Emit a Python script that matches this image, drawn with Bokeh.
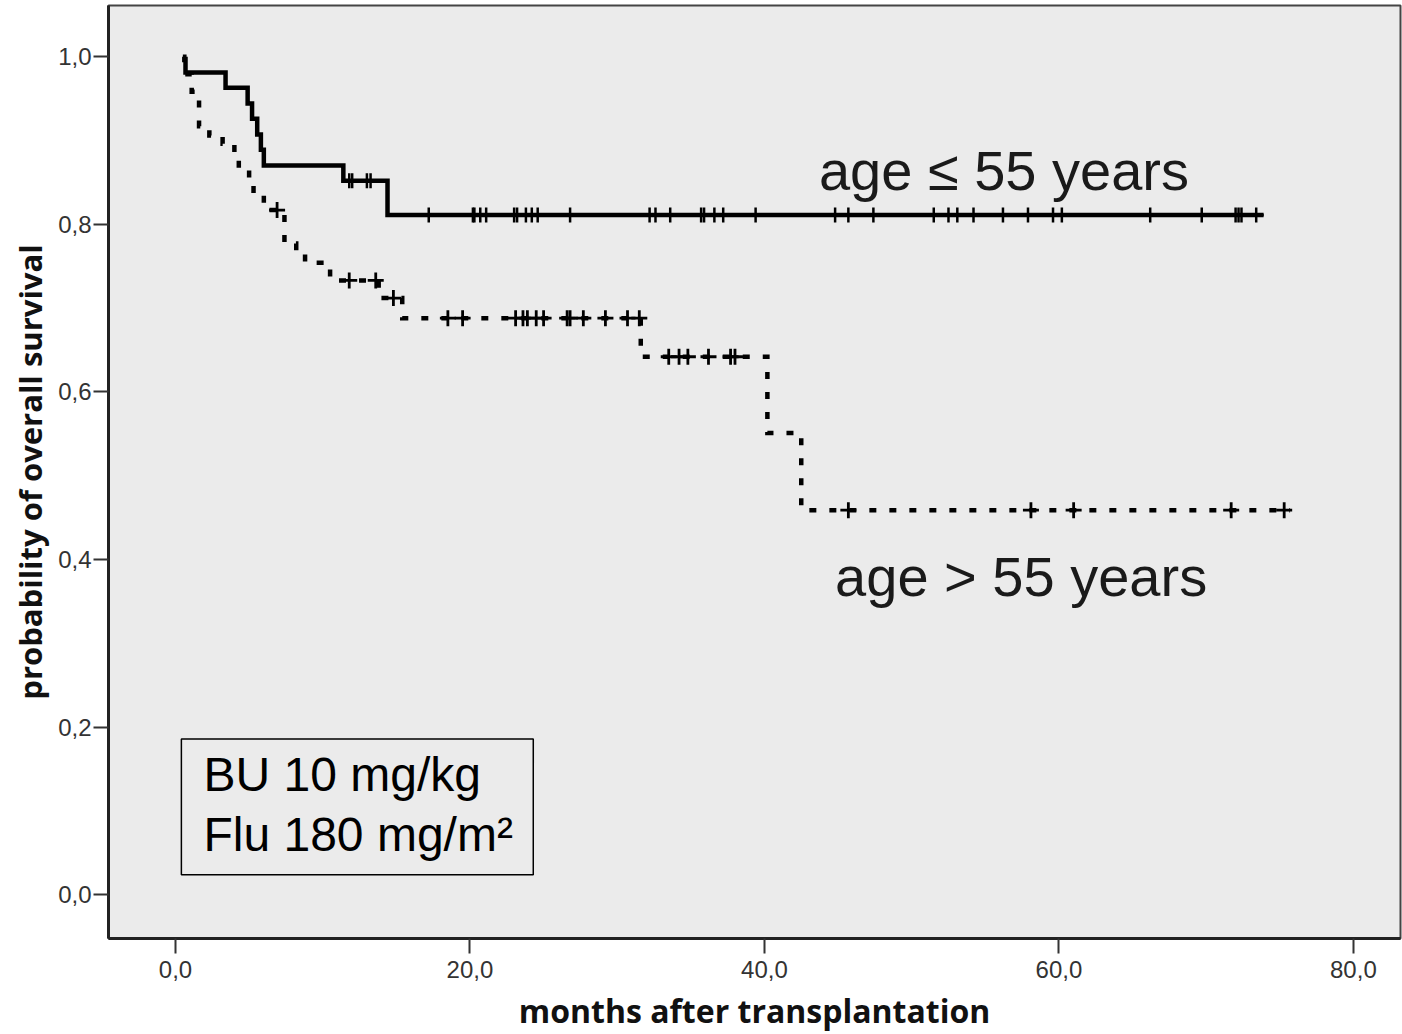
from bokeh.plotting import figure
from bokeh.models import Range1d, FixedTicker, CustomJSTickFormatter, BoxAnnotation
from bokeh.core.properties import value
from bokeh.embed import file_html
from bokeh.resources import INLINE

# ---------------- data ----------------
# age <= 55 years : event times (months) and survival after each event
young_start = 0.68
young_times = [0.68, 3.4, 4.9, 5.2, 5.55, 5.8, 6.0, 11.4, 14.4]
young_surv = [0.981, 0.963, 0.944, 0.926, 0.907, 0.889, 0.870, 0.852, 0.811]
young_end = 73.9
young_censor = [11.8, 12.0, 13.0, 13.25, 17.2, 20.2, 20.3, 20.7, 21.1, 23.0, 23.2,
                23.8, 24.2, 24.6, 26.8, 32.2, 32.6, 33.6, 35.7, 35.9, 36.6, 37.2,
                39.4, 44.8, 45.7, 47.4, 51.5, 52.5, 53.1, 54.2, 56.2, 57.9, 59.6,
                60.2, 66.2, 69.7, 72.0, 72.2, 72.4, 73.4]

# age > 55 years
old_start = 0.5
old_times = [0.6, 1.1, 1.6, 2.3, 3.2, 4.0, 4.3, 5.0, 5.3, 6.0, 7.4, 8.2, 8.8,
             10.5, 13.8, 15.4, 31.6, 40.2, 42.5]
old_surv = [0.979, 0.958, 0.917, 0.906, 0.896, 0.885, 0.865, 0.854, 0.836, 0.817,
            0.777, 0.767, 0.754, 0.733, 0.712, 0.688, 0.642, 0.551, 0.459]
old_end = 75.7
old_censor = [6.9, 11.8, 13.6, 14.8, 18.5, 19.5, 23.1, 23.6, 23.9, 24.5, 25.0,
              26.6, 26.8, 27.7, 29.2, 30.7, 31.5, 33.5, 34.2, 34.8, 36.2, 37.7,
              38.0, 45.7, 58.1, 61.0, 71.7, 75.3]

x_ticks = [0, 20, 40, 60, 80]
y_ticks = [0.0, 0.2, 0.4, 0.6, 0.8, 1.0]

label_young = "age \u2264 55 years"
label_old = "age > 55 years"
box_lines = ["BU 10 mg/kg", "Flu 180 mg/m\u00b2"]
x_title = "months after transplantation"
y_title = "probability of overall survival"


def step_path(t0, times, surv, t_end):
    xs, ys = [t0], [1.0]
    for t, s in zip(times, surv):
        xs += [t, t]
        ys += [ys[-1], s]
    xs.append(t_end)
    ys.append(ys[-1])
    return xs, ys


def surv_at(t, times, surv):
    s = 1.0
    for tt, ss in zip(times, surv):
        if tt <= t:
            s = ss
    return s


p = figure(width=1402, height=1034, output_backend="svg", toolbar_location=None,
           x_range=Range1d(-4.55, 83.2), y_range=Range1d(-0.052, 1.061),
           min_border_left=108, min_border_right=2, min_border_top=5, min_border_bottom=94)

p.background_fill_color = "#ebebeb"
p.border_fill_color = "white"
p.outline_line_color = "#444444"
p.outline_line_width = 2
p.xgrid.visible = False
p.ygrid.visible = False

fmt = CustomJSTickFormatter(code="return tick.toFixed(1).replace('.', ',');")
for ax, ticks in ((p.xaxis[0], x_ticks), (p.yaxis[0], y_ticks)):
    ax.ticker = FixedTicker(ticks=ticks)
    ax.formatter = fmt
    ax.minor_tick_line_color = None
    ax.major_tick_in = 0
    ax.major_tick_out = 15
    ax.major_tick_line_width = 2
    ax.major_tick_line_color = "#333333"
    ax.axis_line_width = 3
    ax.axis_line_color = "#222222"
    ax.major_label_text_font = "Liberation Sans"
    ax.major_label_text_font_size = "24px"
    ax.major_label_text_color = "#333333"
    ax.axis_label_text_font = "Open Sans"
    ax.axis_label_text_font_style = "bold"
    ax.axis_label_text_color = "#111111"

p.xaxis.major_label_standoff = 7
p.yaxis.major_label_standoff = 2
p.xaxis.axis_label = x_title
p.yaxis.axis_label = y_title
p.xaxis.axis_label_text_font_size = "32px"
p.yaxis.axis_label_text_font_size = "31px"
p.xaxis.axis_label_standoff = 8
p.yaxis.axis_label_standoff = 4

# curves
yx, yy = step_path(young_start, young_times, young_surv, young_end)
p.line(yx, yy, line_color="black", line_width=4.5, line_join="miter")
ox, oy = step_path(old_start, old_times, old_surv, old_end)
p.line(ox, oy, line_color="black", line_width=4.5, line_dash="7 13", line_join="miter")

# censor marks
yc_y = [surv_at(t, young_times, young_surv) for t in young_censor]
p.scatter(young_censor, yc_y, marker="cross", size=15, line_width=2.5, line_color="black")
oc_y = [surv_at(t, old_times, old_surv) for t in old_censor]
p.scatter(old_censor, oc_y, marker="cross", size=16, line_width=2.8, line_color="black")

# group labels
p.text(x=[43.7], y=[0.864], text=[label_young], text_font=value("Liberation Sans"),
       text_font_size="56px", text_color="#1a1a1a", text_baseline="alphabetic", text_align="left")
p.text(x=[44.8], y=[0.380], text=[label_old], text_font=value("Liberation Sans"),
       text_font_size="56px", text_color="#1a1a1a", text_baseline="alphabetic", text_align="left")

# regimen box
p.add_layout(BoxAnnotation(left=0.4, right=24.3, bottom=0.024, top=0.186,
                           fill_alpha=0, line_color="black", line_alpha=1, line_width=1.5))
p.text(x=[1.9, 1.9], y=[0.144, 0.0726], text=box_lines, text_font=value("Liberation Sans"),
       text_font_size="48px", text_color="black", text_baseline="alphabetic", text_align="left")

open("out.html", "w").write(file_html(p, INLINE))
